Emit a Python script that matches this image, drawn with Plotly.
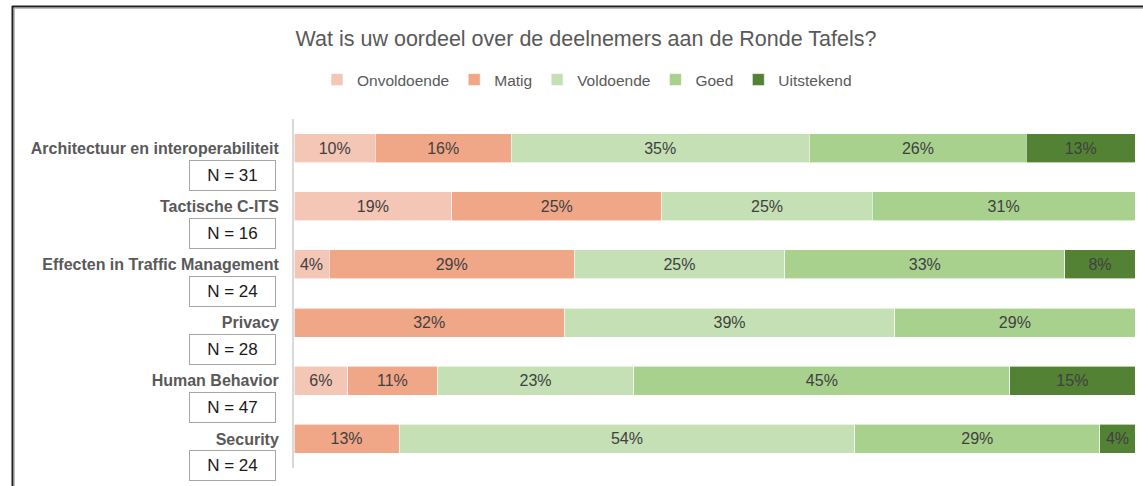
import plotly.graph_objects as go

# Survey results: counts per rating for each round-table topic
topics = [
    "Architectuur en interoperabiliteit",
    "Tactische C-ITS",
    "Effecten in Traffic Management",
    "Privacy",
    "Human Behavior",
    "Security",
]
n_resp = [31, 16, 24, 28, 47, 24]

ratings = ["Onvoldoende", "Matig", "Voldoende", "Goed", "Uitstekend"]
colors = ["#F4C6B6", "#F0A788", "#C5E0B4", "#A9D18E", "#548235"]

onvoldoende = [3, 3, 1, 0, 3, 0]
matig = [5, 4, 7, 9, 5, 3]
voldoende = [11, 4, 6, 11, 11, 13]
goed = [8, 5, 8, 8, 21, 7]
uitstekend = [4, 0, 2, 0, 7, 1]
counts = [onvoldoende, matig, voldoende, goed, uitstekend]

W, H = 1143, 486
ML, MR, MT, MB = 294, 8, 119, 18
PW, PH = W - ML - MR, H - MT - MB


def px_x(px):
    return (px - ML) / PW


def px_y(py):
    return (H - MB - py) / PH


FONT = "Liberation Sans"

fig = go.Figure()
for name, col, cnt in zip(ratings, colors, counts):
    share = [c / n for c, n in zip(cnt, n_resp)]
    text = [f"{round(s * 100 + 1e-9)}%" if s > 0 else "" for s in share]
    fig.add_trace(go.Bar(
        name=name, y=topics, x=share, orientation="h",
        marker=dict(color=col, line=dict(color="#FFFFFF", width=0.6)),
        text=text, textposition="inside", insidetextanchor="middle",
        textangle=0, constraintext="none",
        textfont=dict(family=FONT, size=16, color="#404040"),
        hoverinfo="skip",
    ))

# sample-size boxes under each topic label
for t, n in zip(topics, n_resp):
    fig.add_annotation(
        x=px_x(232), xref="paper", xanchor="center",
        y=t, yref="y", yshift=-27, yanchor="middle",
        text=f"N = {n}", showarrow=False,
        font=dict(family=FONT, size=17, color="#1A1A1A"),
        bordercolor="#A6A6A6", borderwidth=1, borderpad=1,
        width=83, height=27, bgcolor="#FFFFFF",
    )

# chart frame (left and top edges)
frame = [
    dict(x0=px_x(12.5), x1=px_x(12.5), y0=px_y(6), y1=px_y(H + 5), c="#1F1F1F", w=2),
    dict(x0=px_x(12), x1=px_x(W + 5), y0=px_y(6.5), y1=px_y(6.5), c="#1F1F1F", w=2),
    dict(x0=px_x(14.5), x1=px_x(14.5), y0=px_y(8), y1=px_y(H + 5), c="#BDBDBD", w=1),
    dict(x0=px_x(14), x1=px_x(W + 5), y0=px_y(8.5), y1=px_y(8.5), c="#BDBDBD", w=1),
]
for f in frame:
    fig.add_shape(type="line", xref="paper", yref="paper",
                  x0=f["x0"], x1=f["x1"], y0=f["y0"], y1=f["y1"],
                  line=dict(color=f["c"], width=f["w"]))

fig.update_layout(
    width=W, height=H,
    margin=dict(l=ML, r=MR, t=MT, b=MB, autoexpand=False),
    paper_bgcolor="#FFFFFF", plot_bgcolor="#FFFFFF",
    barmode="stack", bargap=0.5,
    title=dict(
        text="Wat is uw oordeel over de deelnemers aan de Ronde Tafels?",
        xref="container", x=586 / W, xanchor="center",
        yref="container", y=1 - 38 / H, yanchor="middle",
        font=dict(family=FONT, size=21.5, color="#595959"),
    ),
    legend=dict(
        orientation="h", xref="paper", x=px_x(587), xanchor="center",
        yref="paper", y=px_y(80), yanchor="middle",
        font=dict(family=FONT, size=15.5, color="#595959"),
        itemwidth=30, traceorder="normal", bgcolor="rgba(0,0,0,0)",
    ),
    xaxis=dict(range=[0, 1], visible=False, fixedrange=True),
    yaxis=dict(
        range=[len(topics) - 0.5, -0.5], autorange=False,
        showline=True, linecolor="#D9D9D9", linewidth=2,
        ticks="", showgrid=False, ticklabelstandoff=10,
        tickfont=dict(family=FONT, size=16, color="#595959", weight="bold"),
    ),
    showlegend=True,
)

fig.write_html("out.html")
